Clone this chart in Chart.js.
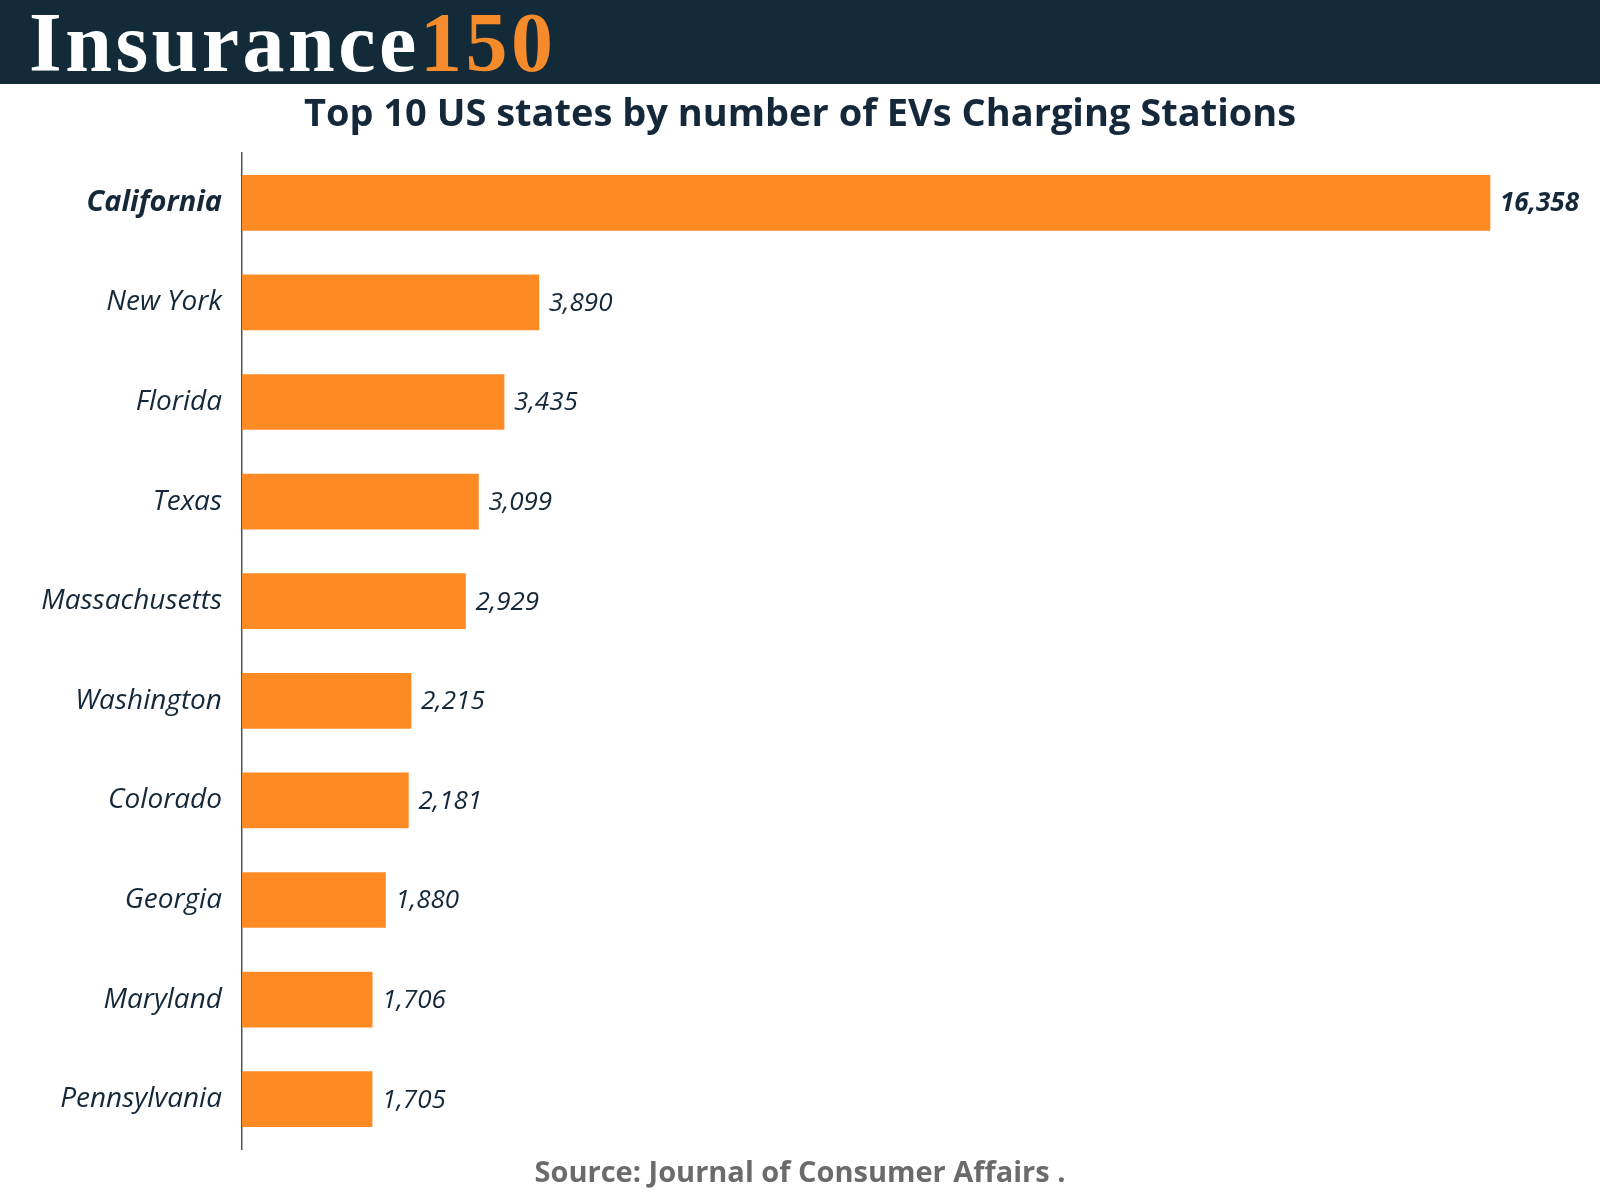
<!DOCTYPE html>
<html>
<head>
<meta charset="utf-8">
<script src="https://cdn.jsdelivr.net/npm/chart.js@4.4.0/dist/chart.umd.min.js"></script>
<style>
  body { margin: 0; width: 1600px; height: 1200px; background: #fff; overflow: hidden; }
  #header { height: 84px; background: #132a38; position: relative; }
  #logo {
    position: absolute; left: 29px; top: 1px; height: 84px; line-height: 84px;
    font-family: "Liberation Serif", serif; font-weight: bold; font-size: 84px;
    letter-spacing: 3.5px; color: #fff;
  }
  #logo span { color: #f58b2a; }
  #wrap { position: relative; width: 1600px; height: 1116px; }
</style>
</head>
<body>
<div id="header"><div id="logo">Insurance<span>150</span></div></div>
<div id="wrap"><canvas id="chart"></canvas></div>
<script>
document.addEventListener('DOMContentLoaded', function() {
    // Dados do gráfico
    const states = ['California', 'New York', 'Florida', 'Texas', 'Massachusetts',
                    'Washington', 'Colorado', 'Georgia', 'Maryland', 'Pennsylvania'];
    const stations = [16358, 3890, 3435, 3099, 2929, 2215, 2181, 1880, 1706, 1705];

    const ink = '#14283a';

    // Rótulos de valor ao lado das barras
    const valueLabels = {
        id: 'valueLabels',
        afterDatasetsDraw(chart) {
            const ctx = chart.ctx;
            const meta = chart.getDatasetMeta(0);
            ctx.save();
            ctx.textAlign = 'left';
            ctx.textBaseline = 'middle';
            ctx.fillStyle = ink;
            meta.data.forEach((bar, i) => {
                const bold = i === 0 ? 'bold ' : '';
                ctx.font = 'italic ' + bold + '26px "Open Sans"';
                ctx.fillText(stations[i].toLocaleString('en-US'), bar.x + 10, bar.y + 1);
            });
            ctx.restore();
        }
    };

    const ctx = document.getElementById('chart').getContext('2d');
    new Chart(ctx, {
        type: 'bar',
        data: {
            labels: states,
            datasets: [{
                data: stations,
                backgroundColor: '#fe8a24',
                barThickness: 55
            }]
        },
        options: {
            indexAxis: 'y',
            responsive: true,
            maintainAspectRatio: false,
            animation: false,
            layout: { padding: 0 },
            plugins: {
                legend: { display: false },
                tooltip: { enabled: false },
                title: {
                    display: true,
                    text: 'Top 10 US states by number of EVs Charging Stations',
                    color: ink,
                    font: { family: 'Open Sans', size: 38, weight: 'bold', lineHeight: 1.2 },
                    padding: { top: 8, bottom: 15.4 }
                },
                subtitle: {
                    display: true,
                    position: 'bottom',
                    text: 'Source: Journal of Consumer Affairs .',
                    color: '#6b6b6b',
                    font: { family: 'Open Sans', size: 29, weight: 'bold', lineHeight: 1.2 },
                    padding: { top: 7.2, bottom: 9 }
                }
            },
            scales: {
                x: {
                    display: false,
                    min: 0,
                    max: 17800
                },
                y: {
                    afterFit(scale) { scale.width = 242; },
                    grid: { display: false, drawTicks: false, tickLength: 0 },
                    border: { display: true, color: '#555', width: 1.5 },
                    ticks: {
                        padding: 20,
                        color: ink,
                        font: (c) => ({
                            family: 'Open Sans',
                            size: c.index === 0 ? 29 : 28,
                            style: 'italic',
                            weight: c.index === 0 ? 'bold' : 'normal'
                        })
                    }
                }
            }
        },
        plugins: [valueLabels]
    });
});
</script>
</body>
</html>
